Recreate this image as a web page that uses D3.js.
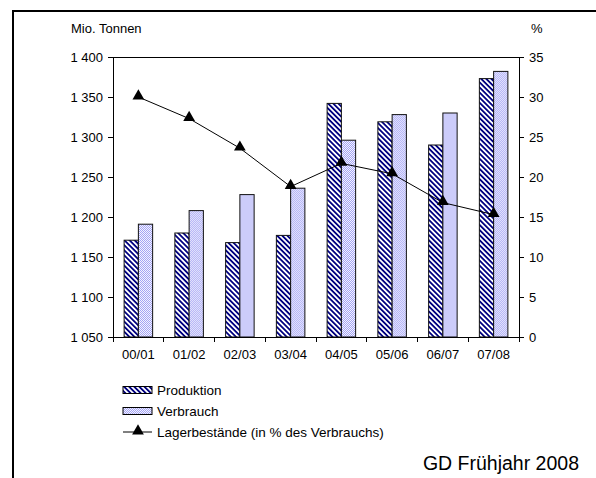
<!DOCTYPE html>
<html>
<head>
<meta charset="utf-8">
<script src="https://cdn.jsdelivr.net/npm/d3@7"></script>
<style>
  body { margin: 0; background: #fff; }
  text { font-family: "Liberation Sans", Arial, sans-serif; fill: #000; }
  .axis path, .axis line { stroke: #000; shape-rendering: crispEdges; }
  .axis text { font-size: 13px; }
</style>
</head>
<body>
<div id="chart"></div>
<script>
// data
var years = ["00/01", "01/02", "02/03", "03/04", "04/05", "05/06", "06/07", "07/08"];
var produktion = [1171, 1180, 1168, 1177, 1342, 1319, 1290, 1373];
var verbrauch = [1191, 1208, 1228, 1236, 1296, 1328, 1330, 1382];
var lager = [30.0, 27.3, 23.6, 18.8, 21.7, 20.4, 16.8, 15.3];
var leftTicks = [1050, 1100, 1150, 1200, 1250, 1300, 1350, 1400];
var rightTicks = [0, 5, 10, 15, 20, 25, 30, 35];
var seriesNames = ["Produktion", "Verbrauch"];

// set the dimensions and margins of the graph
var margin = {top: 57, right: 77, bottom: 141, left: 113},
    width = 596 - margin.left - margin.right,
    height = 478 - margin.top - margin.bottom;

var de = d3.formatLocale({decimal: ",", thousands: " ", grouping: [3], currency: ["", ""]});
var fmt = de.format(",");

// set the ranges
var x = d3.scaleBand().domain(years).range([0, width]).padding(0);
var x1 = d3.scaleBand().domain(seriesNames).range([0, x.bandwidth()])
           .paddingInner(0).paddingOuter(0.78);
var y = d3.scaleLinear().domain([1050, 1400]).range([height, 0]);
var y2 = d3.scaleLinear().domain([0, 35]).range([height, 0]);

var root = d3.select("#chart").append("svg")
    .attr("width", 596)
    .attr("height", 478);

// patterns for the bars
var defs = root.append("defs");
var hatch = defs.append("pattern")
    .attr("id", "hatch")
    .attr("patternUnits", "userSpaceOnUse")
    .attr("width", 3.6).attr("height", 10)
    .attr("patternTransform", "rotate(-45)");
hatch.append("rect").attr("width", 3.6).attr("height", 10).attr("fill", "#fff");
hatch.append("rect").attr("width", 1.8).attr("height", 10).attr("fill", "#000080");

var dots = defs.append("pattern")
    .attr("id", "dots")
    .attr("patternUnits", "userSpaceOnUse")
    .attr("width", 2).attr("height", 2);
dots.append("rect").attr("width", 2).attr("height", 2).attr("fill", "#f4f4ff");
dots.append("rect").attr("width", 1).attr("height", 1).attr("fill", "#a4a4f4");
dots.append("rect").attr("x", 1).attr("y", 1).attr("width", 1).attr("height", 1).attr("fill", "#a4a4f4");

var fills = {Produktion: "url(#hatch)", Verbrauch: "url(#dots)"};

// outer frame
root.append("rect")
    .attr("x", 13).attr("y", 11)
    .attr("width", 620).attr("height", 520)
    .attr("fill", "none").attr("stroke", "#000").attr("stroke-width", 2);

var svg = root.append("g")
    .attr("transform", "translate(" + margin.left + "," + margin.top + ")");

// bars
var rows = years.map(function(d, i) {
  return {year: d, Produktion: produktion[i], Verbrauch: verbrauch[i]};
});

var groups = svg.selectAll(".grp")
    .data(rows)
  .enter().append("g")
    .attr("class", "grp")
    .attr("transform", function(d) { return "translate(" + x(d.year) + ",0)"; });

groups.selectAll("rect")
    .data(function(d) { return seriesNames.map(function(k) { return {key: k, value: d[k]}; }); })
  .enter().append("rect")
    .attr("x", function(d) { return x1(d.key); })
    .attr("width", x1.bandwidth())
    .attr("y", function(d) { return y(d.value); })
    .attr("height", function(d) { return height - y(d.value); })
    .attr("fill", function(d) { return fills[d.key]; })
    .attr("stroke", "#111")
    .attr("stroke-width", 1);

// plot area top border
svg.append("line")
    .attr("x1", 0).attr("x2", width)
    .attr("y1", 0).attr("y2", 0)
    .attr("stroke", "#000").attr("shape-rendering", "crispEdges");

// left axis
svg.append("g")
    .attr("class", "axis")
    .call(d3.axisLeft(y).tickValues(leftTicks).tickFormat(fmt).tickSize(5).tickPadding(5));

// right axis
svg.append("g")
    .attr("class", "axis")
    .attr("transform", "translate(" + width + ",0)")
    .call(d3.axisRight(y2).tickValues(rightTicks).tickSize(5).tickPadding(5));

// bottom axis, labels centred, ticks on the category borders
var xAxis = svg.append("g")
    .attr("class", "axis")
    .attr("transform", "translate(0," + height + ")")
    .call(d3.axisBottom(x).tickSize(0).tickPadding(13));
xAxis.selectAll(".tick line").remove();
xAxis.selectAll(".edge")
    .data(years.concat(["end"]))
  .enter().append("line")
    .attr("class", "edge")
    .attr("x1", function(d) { return d === "end" ? width : x(d); })
    .attr("x2", function(d) { return d === "end" ? width : x(d); })
    .attr("y1", 0).attr("y2", 5);

// line for stock levels
var pts = years.map(function(d, i) { return {year: d, v: lager[i]}; });
var line = d3.line()
    .x(function(d) { return x(d.year) + x.bandwidth() / 2; })
    .y(function(d) { return y2(d.v); });

svg.append("path")
    .datum(pts)
    .attr("fill", "none")
    .attr("stroke", "#000")
    .attr("stroke-width", 1)
    .attr("d", line);

var tri = d3.symbol().type(d3.symbolTriangle).size(60);
svg.selectAll(".pt")
    .data(pts)
  .enter().append("path")
    .attr("class", "pt")
    .attr("transform", function(d) {
      return "translate(" + (x(d.year) + x.bandwidth() / 2) + "," + (y2(d.v) - 1) + ")";
    })
    .attr("d", tri)
    .attr("fill", "#000");

// axis titles
root.append("text").attr("x", 71).attr("y", 33).style("font-size", "13px").text("Mio. Tonnen");
root.append("text").attr("x", 531).attr("y", 33).style("font-size", "13px").text("%");

// legend
var legend = root.append("g").attr("transform", "translate(123,0)");
seriesNames.forEach(function(k, i) {
  var cy = 390 + i * 21;
  legend.append("rect")
      .attr("x", 0).attr("y", cy - 3.5)
      .attr("width", 29).attr("height", 7)
      .attr("fill", fills[k]).attr("stroke", "#000");
  legend.append("text")
      .attr("x", 34).attr("y", cy).attr("dy", "0.35em")
      .style("font-size", "13.5px").text(k);
});
legend.append("line")
    .attr("x1", 0).attr("x2", 29).attr("y1", 432).attr("y2", 432)
    .attr("stroke", "#000").attr("stroke-width", 1);
legend.append("path")
    .attr("transform", "translate(15,431)")
    .attr("d", tri).attr("fill", "#000");
legend.append("text")
    .attr("x", 34).attr("y", 432).attr("dy", "0.35em")
    .style("font-size", "13.5px").text("Lagerbestände (in % des Verbrauchs)");

// source note
root.append("text")
    .attr("x", 579).attr("y", 470)
    .attr("text-anchor", "end")
    .style("font-size", "19.5px")
    .text("GD Frühjahr 2008");
</script>
</body>
</html>
